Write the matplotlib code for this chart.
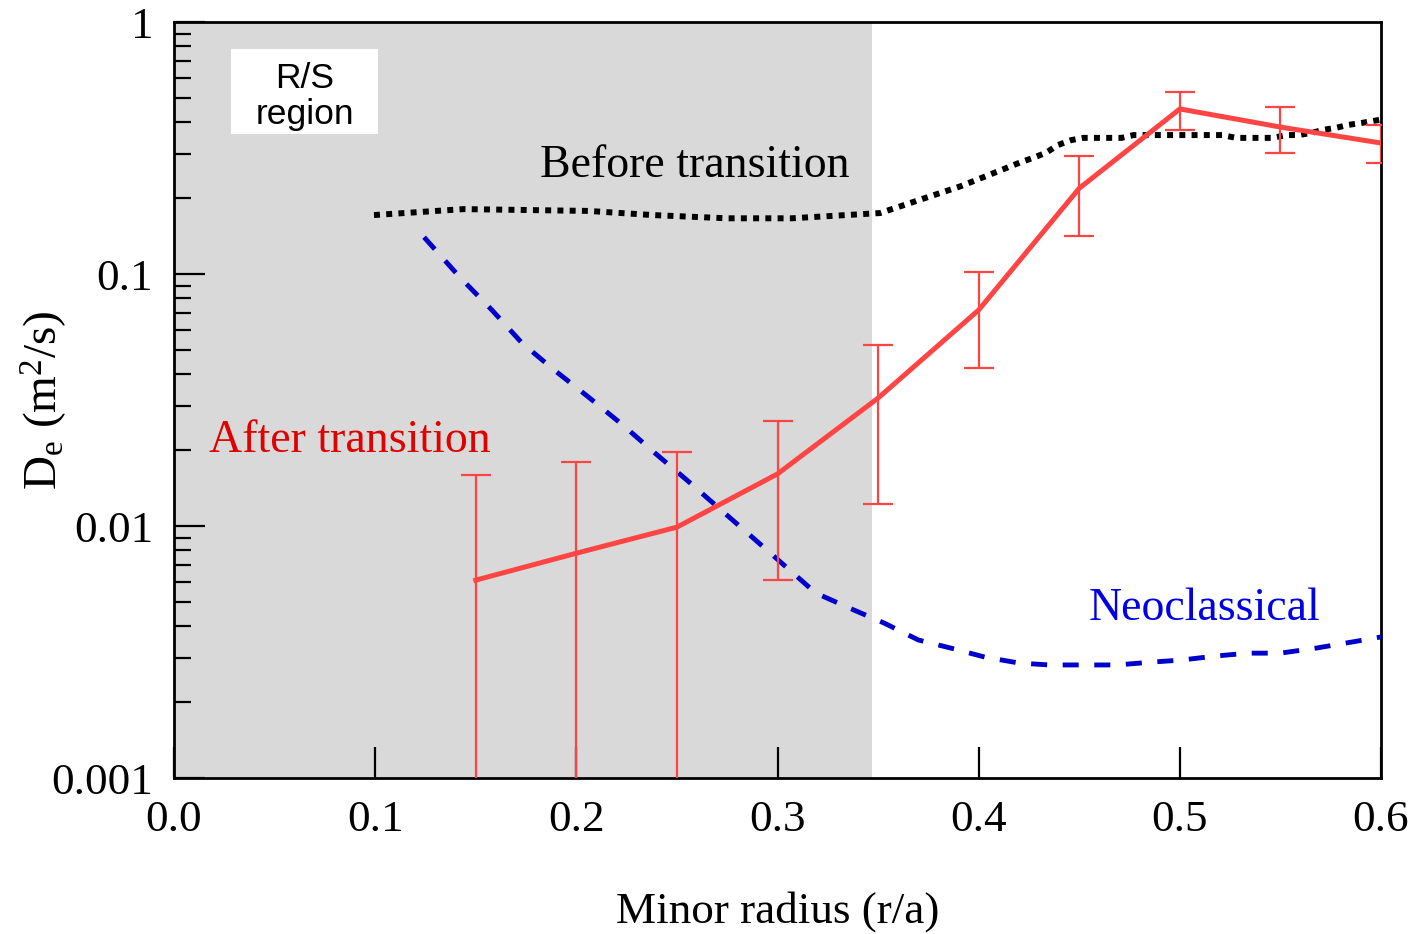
import matplotlib
matplotlib.use("Agg")
import matplotlib.pyplot as plt
from matplotlib.patches import Rectangle
from matplotlib.ticker import LogLocator, NullLocator, FixedLocator, NullFormatter

plt.rcParams['font.family'] = ['Liberation Serif', 'DejaVu Serif']
plt.rcParams['mathtext.fontset'] = 'custom'
plt.rcParams['mathtext.rm'] = 'Liberation Serif'
plt.rcParams['mathtext.it'] = 'Liberation Serif:italic'

# After transition (measured D_e with error bars)
after_x = [0.15, 0.20, 0.25, 0.30, 0.35, 0.40, 0.45, 0.50, 0.55, 0.60]
after_y = [0.0061, 0.0078, 0.0099, 0.0161, 0.0322, 0.072, 0.219, 0.452, 0.383, 0.331]
after_hi = [0.0159, 0.0179, 0.0197, 0.0261, 0.0523, 0.1018, 0.294, 0.527, 0.460, 0.390]
after_lo = [0.0001, 0.0001, 0.0001, 0.0061, 0.0122, 0.0424, 0.1415, 0.373, 0.303, 0.276]

# Before transition (dotted)
before_x = [0.0994, 0.144, 0.206, 0.238, 0.275, 0.307, 0.351, 0.369, 0.391, 0.414,
            0.4205, 0.427, 0.4335, 0.4394, 0.446, 0.452, 0.471, 0.477, 0.521, 0.528,
            0.546, 0.553, 0.559, 0.566, 0.571, 0.578, 0.584, 0.5906, 0.600]
before_y = [0.1714, 0.181, 0.178, 0.1714, 0.1664, 0.1664, 0.1746, 0.195, 0.223, 0.264,
            0.277, 0.289, 0.303, 0.325, 0.340, 0.347, 0.347, 0.356, 0.356, 0.347,
            0.347, 0.356, 0.356, 0.364, 0.373, 0.381, 0.391, 0.398, 0.410]

# Neoclassical (dashed)
neo_x = [0.1243, 0.142, 0.158, 0.173, 0.189, 0.206, 0.223, 0.239, 0.255, 0.272,
         0.288, 0.319, 0.338, 0.353, 0.370, 0.386, 0.403, 0.420, 0.435, 0.469,
         0.485, 0.501, 0.518, 0.534, 0.550, 0.568, 0.586, 0.600]
neo_y = [0.140, 0.0973, 0.0720, 0.0532, 0.0416, 0.0325, 0.0252, 0.0195, 0.0152, 0.01156,
         0.00895, 0.00542, 0.00464, 0.00412, 0.00353, 0.00328, 0.00302, 0.00286, 0.00281, 0.00281,
         0.00288, 0.00294, 0.00305, 0.00313, 0.00313, 0.00328, 0.00347, 0.00363]

rs_region = (0.0, 0.347)
x_ticks = [0.0, 0.1, 0.2, 0.3, 0.4, 0.5, 0.6]
x_ticklabels = ['0.0', '0.1', '0.2', '0.3', '0.4', '0.5', '0.6']
y_ticks = [0.001, 0.01, 0.1, 1]
y_ticklabels = ['0.001', '0.01', '0.1', '1']

fig = plt.figure(figsize=(14.23, 9.34), dpi=100)
ax = fig.add_axes([0.1223, 0.167, 0.8482, 0.8094])

ax.axvspan(rs_region[0], rs_region[1], color='#d9d9d9', lw=0, zorder=0)

# Before transition
ax.plot(before_x, before_y, color='black', lw=4.3, linestyle=(0, (1, 1.05)),
        dash_capstyle='butt', zorder=3)

# Neoclassical
ax.plot(neo_x, neo_y, color='#0000cc', lw=3.5, linestyle=(0, (3.3, 3.2)),
        dash_capstyle='butt', zorder=3)

# After transition
yerr_lo = [y - lo for y, lo in zip(after_y, after_lo)]
yerr_hi = [hi - y for y, hi in zip(after_y, after_hi)]
ax.errorbar(after_x, after_y, yerr=[yerr_lo, yerr_hi], color='#ff4444', lw=3.6,
            elinewidth=1.6, capsize=11, capthick=1.6, zorder=4)

ax.set_yscale('log')
ax.set_xlim(0, 0.6)
ax.set_ylim(0.001, 1)

ax.xaxis.set_major_locator(FixedLocator(x_ticks))
ax.set_xticklabels(x_ticklabels)
ax.xaxis.set_minor_locator(NullLocator())
ax.yaxis.set_major_locator(FixedLocator(y_ticks))
ax.set_yticklabels(y_ticklabels)
ax.yaxis.set_minor_locator(LogLocator(base=10, subs=range(2, 10), numticks=20))
ax.yaxis.set_minor_formatter(NullFormatter())

ax.tick_params(axis='both', which='major', direction='in', length=22, width=1.6,
               labelsize=32.5, top=False, right=False)
ax.tick_params(axis='y', which='minor', direction='in', length=12, width=1.6,
               right=False)
ax.tick_params(axis='x', which='major', pad=16)
ax.tick_params(axis='y', which='major', pad=15)

for sp in ax.spines.values():
    sp.set_linewidth(2.0)

ax.set_xlabel('Minor radius (r/a)', fontsize=32.5, va='center')
ax.xaxis.set_label_coords(0.5, -0.176)
ax.set_ylabel(r'D$_{\mathrm{e}}$ (m$^{2}$/s)', fontsize=34, va='center')
ax.yaxis.set_label_coords(-0.1085, 0.5)

ax.text(0.259, 0.268, 'Before transition', fontsize=33, color='black',
        ha='center', va='center', zorder=5)
ax.text(0.0875, 0.0218, 'After transition', fontsize=33, color='#e00000',
        ha='center', va='center', zorder=5)
ax.text(0.512, 0.00468, 'Neoclassical', fontsize=33, color='#0000e6',
        ha='center', va='center', zorder=5)

ax.add_patch(Rectangle((0.0472, 0.8519), 0.1218, 0.1124, transform=ax.transAxes,
                       facecolor='white', edgecolor='none', zorder=5))
ax.text(0.1081, 0.9015, 'R/S\nregion', transform=ax.transAxes, fontsize=25.5,
        family=['Liberation Sans', 'DejaVu Sans'], ha='center', va='center',
        linespacing=1.15, zorder=6)

fig.savefig('out.png', dpi=100)
